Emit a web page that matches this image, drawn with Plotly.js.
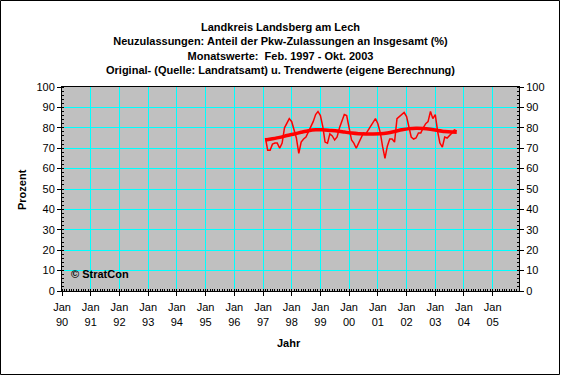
<!DOCTYPE html>
<html>
<head>
<meta charset="utf-8">
<script src="https://cdn.plot.ly/plotly-3.0.1.min.js"></script>
<style>
html,body{margin:0;padding:0;background:#fff;}
#chart{width:561px;height:375px;}
</style>
</head>
<body>
<div id="chart"></div>
<script>
// ---- data ----
const titleLines = [
  'Landkreis Landsberg am Lech',
  'Neuzulassungen: Anteil der Pkw-Zulassungen an Insgesamt (%)',
  'Monatswerte:  Feb. 1997 - Okt. 2003',
  'Original- (Quelle: Landratsamt) u. Trendwerte (eigene Berechnung)'
];
const startYear = 1997, startMonth = 2; // first monthly value: Feb. 1997
const v1997 = [75, 69, 69, 72, 72.5, 72.5, 70, 72.5, 80, 82, 84.5];            // Feb-Dec
const v1998 = [83, 79, 75, 67.5, 73, 74.5, 75.5, 78, 80.5, 83, 86.5, 88];
const v1999 = [86, 80.5, 73, 72.5, 77, 76, 74, 75.5, 80, 83.5, 86.5, 86];
const v2000 = [79, 74, 72.5, 70, 72.5, 75, 77.5, 77, 79, 81, 83, 84.5];
const v2001 = [82, 77.5, 71, 65, 71, 74.5, 74.5, 73, 84.5, 85.5, 86.5, 87.5];
const v2002 = [85.5, 80, 75.5, 74.5, 75, 77.5, 77.5, 80, 82, 83, 88, 84.5];
const v2003 = [86.5, 78, 72.5, 70.5, 75.5, 75, 76, 77.5, 79, 78.5];              // Jan-Oct
const trendDates = ['1997-02-01','1997-05-01','1997-08-01','1997-11-01',
  '1998-02-01','1998-05-01','1998-08-01','1998-11-01',
  '1999-02-01','1999-05-01','1999-08-01','1999-11-01',
  '2000-02-01','2000-05-01','2000-08-01','2000-11-01',
  '2001-02-01','2001-05-01','2001-08-01','2001-11-01',
  '2002-02-01','2002-05-01','2002-08-01','2002-11-01',
  '2003-02-01','2003-05-01','2003-08-01','2003-10-01'];
const trendVals = [74.0, 74.6, 75.3, 76.2,
  77.0, 77.8, 78.6, 79.0,
  79.0, 78.7, 78.4, 77.9,
  77.4, 77.1, 77.0, 77.0,
  77.1, 77.5, 78.2, 79.0,
  79.6, 79.8, 79.7, 79.3,
  78.7, 78.2, 77.9, 77.8];
const tickDates = ['1990-01-01','1991-01-01','1992-01-01','1993-01-01','1994-01-01','1995-01-01',
  '1996-01-01','1997-01-01','1998-01-01','1999-01-01','2000-01-01','2001-01-01',
  '2002-01-01','2003-01-01','2004-01-01','2005-01-01'];
const tickLabels = ['Jan<br>90','Jan<br>91','Jan<br>92','Jan<br>93','Jan<br>94','Jan<br>95',
  'Jan<br>96','Jan<br>97','Jan<br>98','Jan<br>99','Jan<br>00','Jan<br>01',
  'Jan<br>02','Jan<br>03','Jan<br>04','Jan<br>05'];
const yTitle = 'Prozent', xTitle = 'Jahr', credit = '© StratCon';

// ---- build monthly dates ----
const origVals = [].concat(v1997, v1998, v1999, v2000, v2001, v2002, v2003);
const origDates = origVals.map((_, i) => {
  const k = (startMonth - 1) + i;
  const y = startYear + Math.floor(k / 12);
  const m = (k % 12) + 1;
  return y + '-' + String(m).padStart(2, '0') + '-01';
});

const FONT = 'Arial, "Liberation Sans", sans-serif';

const traces = [
  {x: origDates, y: origVals, type: 'scatter', mode: 'lines',
   line: {color: '#FF0000', width: 1.5}, hoverinfo: 'skip', showlegend: false},
  {x: trendDates, y: trendVals, type: 'scatter', mode: 'lines',
   line: {color: '#FF0000', width: 3.5, shape: 'spline', smoothing: 0.6}, hoverinfo: 'skip', showlegend: false},
  {x: [null], y: [null], yaxis: 'y2', type: 'scatter', mode: 'lines', hoverinfo: 'skip', showlegend: false}
];

// plot area pixels: x 62..519, y 87..291
const L = 62, R = 519, T = 87, B = 291, W = R - L, H = B - T;
const px = p => (p - L) / W;
const py = p => (B - p) / H;

const layout = {
  width: 561, height: 375,
  margin: {l: L, r: 561 - R, t: T, b: 375 - B, pad: 0},
  paper_bgcolor: '#FFFFFF', plot_bgcolor: '#C0C0C0',
  font: {family: FONT, size: 11, color: '#000'},
  title: {text: titleLines.join('<br>'), x: 0.5, xref: 'container', xanchor: 'center',
          y: 1 - 31 / 375, yref: 'container', yanchor: 'top',
          font: {family: FONT, size: 11, color: '#000', weight: 'bold'}},
  xaxis: {type: 'date', range: ['1990-01-01', '2005-12-01'], tickmode: 'array',
          tickvals: tickDates, ticktext: tickLabels, ticks: 'outside', ticklen: 4, tickcolor: '#000',
          ticklabelstandoff: 2,
          showline: true, linecolor: '#000', linewidth: 1, mirror: true,
          showgrid: true, gridcolor: '#00FFFF', gridwidth: 1, zeroline: false,
          tickfont: {family: FONT, size: 11, color: '#000'},
          minor: {ticks: 'inside', ticklen: 2, dtick: 'M1', tickcolor: '#000', showgrid: false},
          fixedrange: true},
  yaxis: {range: [0, 100], tick0: 0, dtick: 10, ticks: 'outside', ticklen: 4, tickcolor: '#000',
          showline: true, linecolor: '#000', linewidth: 1, mirror: true,
          showgrid: true, gridcolor: '#00FFFF', gridwidth: 1, zeroline: false,
          tickfont: {family: FONT, size: 11, color: '#000'},
          minor: {ticks: 'inside', ticklen: 2, dtick: 2, tickcolor: '#000', showgrid: false},
          fixedrange: true},
  yaxis2: {range: [0, 100], tick0: 0, dtick: 10, overlaying: 'y', side: 'right',
          ticks: 'outside', ticklen: 4, tickcolor: '#000', showline: true, linecolor: '#000',
          showgrid: false, zeroline: false,
          tickfont: {family: FONT, size: 11, color: '#000'},
          minor: {ticks: 'inside', ticklen: 2, dtick: 2, tickcolor: '#000', showgrid: false},
          fixedrange: true},
  annotations: [
    {text: credit, xref: 'paper', yref: 'paper', x: px(69), y: py(274), xanchor: 'left', yanchor: 'middle',
     showarrow: false, font: {family: FONT, size: 11, color: '#000', weight: 'bold'}},
    {text: yTitle, xref: 'paper', yref: 'paper', x: px(22), y: py(190), xanchor: 'center', yanchor: 'middle',
     textangle: -90, showarrow: false, font: {family: FONT, size: 11, color: '#000', weight: 'bold'}},
    {text: xTitle, xref: 'paper', yref: 'paper', x: px(289), y: py(343), xanchor: 'center', yanchor: 'middle',
     showarrow: false, font: {family: FONT, size: 11, color: '#000', weight: 'bold'}}
  ],
  shapes: [
    {type: 'rect', xref: 'paper', yref: 'paper', x0: px(0.5), x1: px(559.5), y0: py(374.5), y1: py(0.5),
     line: {color: '#000', width: 1}, fillcolor: 'rgba(0,0,0,0)', layer: 'below'}
  ]
};

Plotly.newPlot('chart', traces, layout, {staticPlot: true, displayModeBar: false});
</script>
</body>
</html>
